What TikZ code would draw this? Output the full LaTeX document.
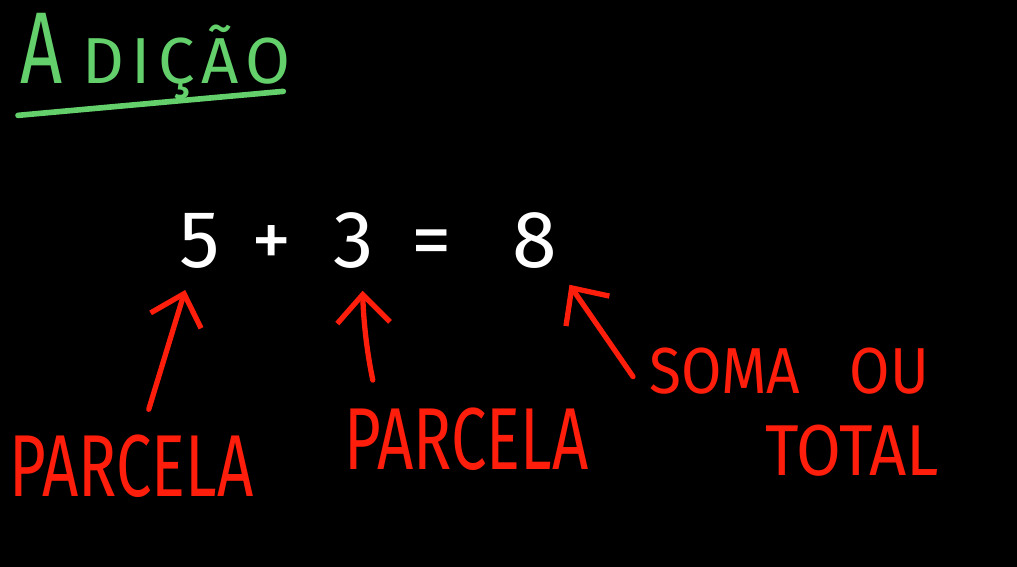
\documentclass[tikz,border=0pt]{standalone}
\usepackage{fontspec}
\setmainfont{Fira Sans}
\newfontfamily\hand[FakeStretch=0.72]{Fira Sans}
\newfontfamily\handwide[FakeStretch=0.9]{Fira Sans}
\usetikzlibrary{arrows.meta,positioning,calc}
\definecolor{chalkgreen}{RGB}{100,208,108}
\definecolor{chalkred}{RGB}{255,30,12}
\tikzset{
  num/.style={text=white, font=\fontsize{23}{24}\selectfont, inner sep=1pt, anchor=base},
  lbl/.style={text=chalkred, inner sep=1pt},
  arr/.style={chalkred, line width=1.5pt, line cap=round,
    -{Straight Barb[length=8pt,width=15pt,line width=1.5pt]}},
}
\begin{document}
\begin{tikzpicture}[x=0.01cm, y=0.01cm]
	\fill[black] (0,0) rectangle (1017,567);
	\useasboundingbox (0,0) rectangle (1017,567);
	% titulo
	\node[text=chalkgreen, inner sep=0pt, anchor=base west] (titulo) at (20,483)
		{{\hand\fontsize{29}{30}\selectfont A}\hspace{0.2cm}{\fontsize{18.5}{20}\selectfont\addfontfeature{LetterSpace=11}DIÇÃO}};
	\draw[chalkgreen, line width=1.6pt, line cap=round] ($(titulo.south west)+(-2,-15)$) -- ($(titulo.south east)+(-8,9)$);
	% conta
	\foreach \n/\x/\t in {t5/200/5, mais/272/+, t3/354/3, igual/432/=, t8/535/8}
		\node[num] (\n) at (\x,299) {\t};
	% nomes
	\node[lbl, font=\hand\fontsize{25}{26}\selectfont, anchor=base west] (p1) at (5,70) {PARCELA};
	\node[lbl, font=\hand\fontsize{25}{26}\selectfont, anchor=base west] (p2) at (340,97) {PARCELA};
	\node[lbl, font=\handwide\fontsize{18.5}{20}\selectfont, anchor=base west] (soma) at (645,173) {SOMA \hspace{0.34cm}OU};
	\node[lbl, font=\handwide\fontsize{20.5}{22}\selectfont, below=0.22cm of soma.south east, anchor=north east, xshift=0.1cm] (total) {TOTAL};
	% setas
	\draw[arr, shorten <=6.5pt, shorten >=5pt] (p1) -- (t5);
	\draw[arr, shorten <=7pt, shorten >=5pt] ($(p2.north west)!0.15!(p2.north east)$) to[bend left=5] ($(t3.south)+(8,0)$);
	\draw[arr, shorten <=6pt, shorten >=4pt] (soma.base west) -- (t8.south east);
\end{tikzpicture}
\end{document}
